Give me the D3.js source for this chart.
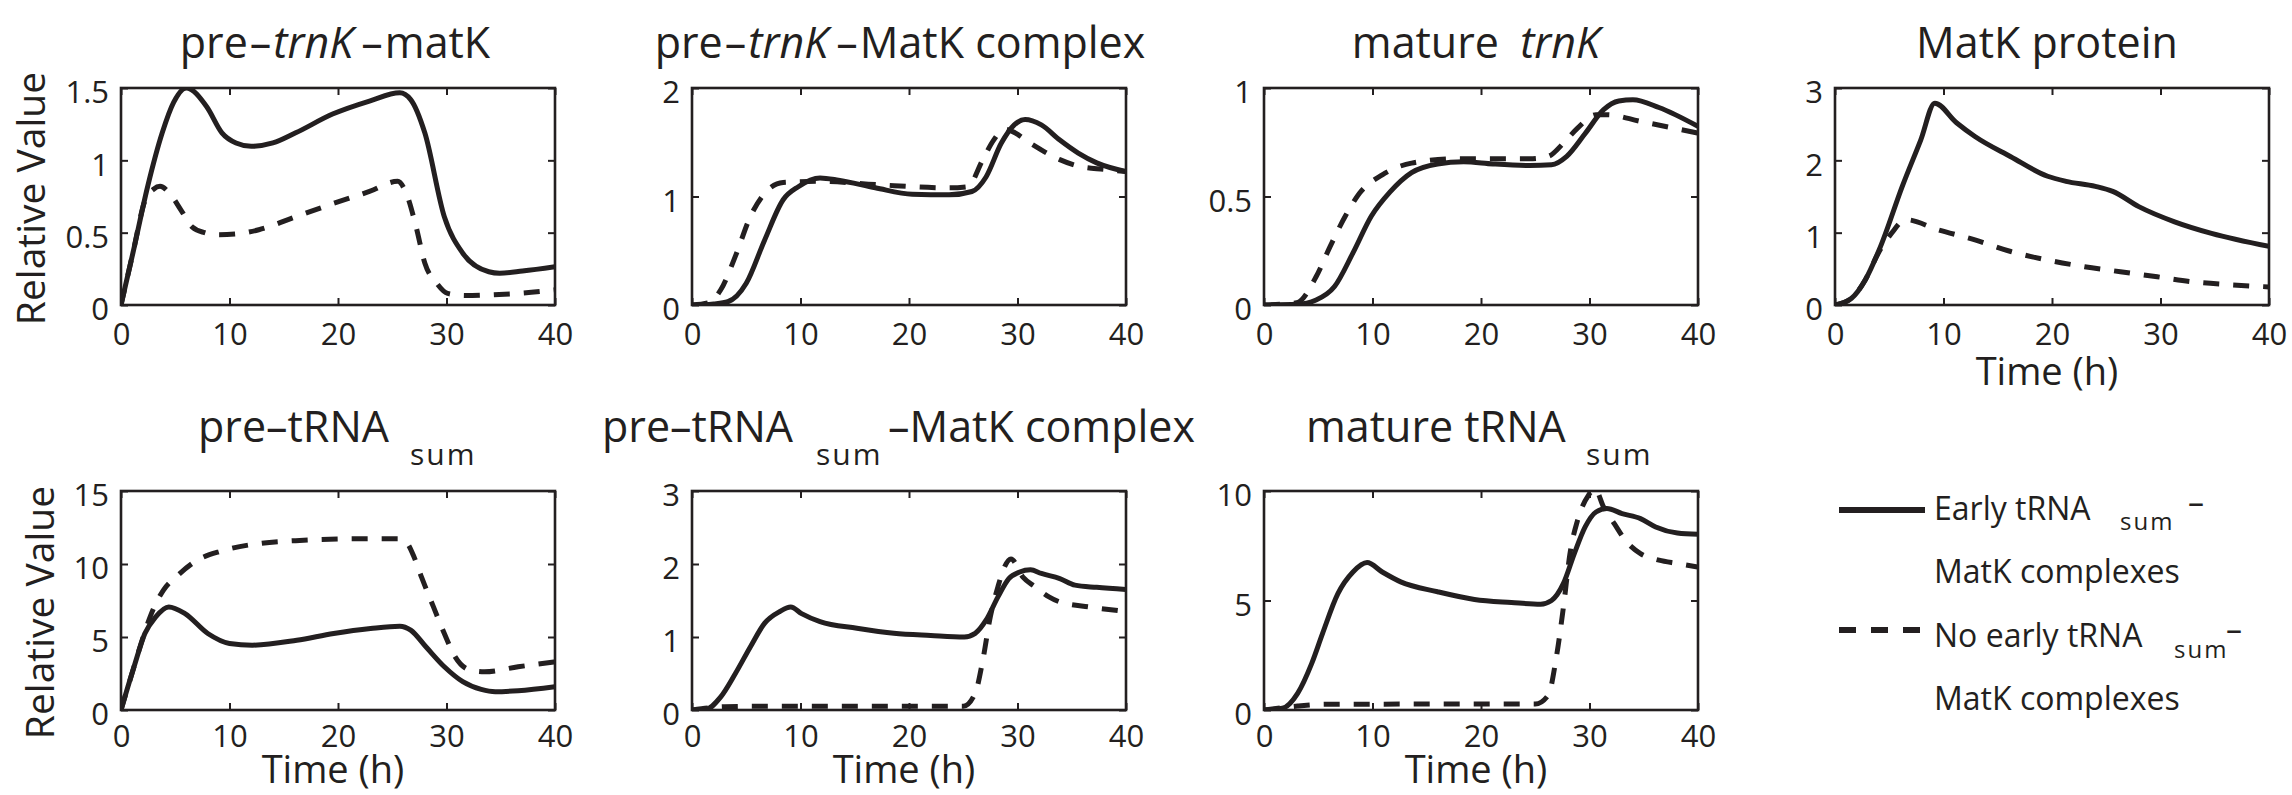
<!DOCTYPE html>
<html>
<head>
<meta charset="utf-8">
<script src="https://cdn.jsdelivr.net/npm/d3@7"></script>
<style>
  body { margin: 0; background: #fff; }
  svg text { font-family: "Open Sans", sans-serif; fill: #231f20; }
</style>
</head>
<body>
<svg id="chart" width="2292" height="795"></svg>
<script>
// time course values as [hour, value]
const preTrnkMatkEarly = [[0,0],[1.1,0.36],[2.46,0.82],[3.8,1.19],[4.85,1.4],[6,1.5],[7.9,1.37],[9.3,1.19],[10.6,1.12],[12,1.097],[14,1.12],[16.1,1.19],[19.5,1.32],[22.9,1.41],[25.7,1.467],[26.7,1.42],[28,1.19],[29.8,0.61],[31.5,0.358],[33.9,0.23],[34.9,0.22],[37,0.235],[40,0.265]];
const preTrnkMatkNone = [[0,0],[1.1,0.36],[2.2,0.72],[3,0.8],[3.6,0.82],[4.5,0.77],[5.5,0.66],[6.55,0.54],[7.7,0.5],[8.9,0.485],[10.5,0.49],[12.7,0.52],[16.1,0.61],[19.5,0.7],[22.9,0.785],[25.5,0.855],[26.3,0.77],[27.2,0.54],[28,0.29],[29.1,0.15],[30.1,0.08],[31.8,0.065],[34,0.07],[36.6,0.08],[40,0.104]];

const preTrnkComplexEarly = [[0,0],[1,0.003],[2,0.01],[3.3,0.03],[5,0.2],[6.7,0.6],[8.4,0.97],[9.8,1.09],[11.8,1.17],[13.5,1.15],[16.9,1.08],[20.3,1.02],[23.7,1.015],[25.8,1.046],[27.1,1.18],[28.5,1.49],[29.7,1.66],[30.7,1.71],[32.2,1.66],[33.9,1.52],[35.6,1.4],[37.3,1.31],[40,1.23]];
const preTrnkComplexNone = [[0,0],[1.5,0.02],[2.65,0.14],[4,0.45],[5.4,0.82],[6.7,1.03],[8.4,1.13],[11.8,1.14],[16.9,1.11],[23.7,1.08],[25.4,1.09],[26.8,1.34],[27.8,1.52],[28.8,1.62],[29.5,1.6],[31.2,1.49],[33.9,1.34],[35.6,1.28],[38,1.25],[40,1.23]];

const matureTrnkEarly = [[0,0],[3,0.003],[4.8,0.023],[6.5,0.085],[8.2,0.24],[9.9,0.41],[11.6,0.52],[13.6,0.61],[16,0.65],[18.4,0.66],[21.1,0.65],[24.5,0.643],[26.5,0.646],[27.9,0.685],[29.6,0.79],[31.3,0.9],[32.7,0.94],[34,0.946],[36.4,0.91],[40,0.823]];
const matureTrnkNone = [[0,0],[3,0.01],[4.8,0.13],[6.1,0.27],[7.5,0.41],[8.8,0.515],[10.9,0.6],[13.6,0.654],[17.7,0.674],[24.5,0.674],[26.2,0.685],[27.6,0.746],[28.9,0.815],[30.6,0.877],[31.6,0.877],[34.7,0.846],[40,0.792]];

const matkProteinEarly = [[0,0],[1.5,0.09],[2.8,0.35],[4.2,0.81],[6.2,1.64],[7.9,2.28],[9.2,2.79],[11.2,2.52],[12.9,2.33],[16.2,2.05],[19.6,1.78],[21.3,1.71],[24,1.64],[25.6,1.57],[28,1.36],[31.3,1.15],[34.7,0.99],[40,0.81]];
const matkProteinNone = [[0,0],[1.5,0.09],[2.8,0.35],[4,0.72],[5.2,0.99],[6.5,1.18],[9.5,1.04],[12.9,0.9],[16.2,0.74],[19.6,0.62],[23,0.53],[26.3,0.46],[29.7,0.39],[33,0.32],[36.4,0.28],[40,0.25]];

const preTrnaEarly = [[0,0],[1.2,2.96],[2.2,5.24],[3.2,6.38],[4.4,7.06],[5.9,6.6],[8,5.24],[10,4.56],[12.1,4.44],[16.2,4.78],[19.6,5.24],[23,5.58],[25.7,5.74],[26.7,5.47],[28.1,4.33],[29.8,2.96],[31.5,1.94],[33.2,1.41],[34.5,1.25],[36.6,1.32],[40,1.6]];
const preTrnaNone = [[0,0],[1.2,2.96],[2,4.9],[2.8,6.6],[3.9,8.2],[5.2,9.2],[7,10.25],[9.3,10.9],[12.7,11.4],[16.1,11.6],[23,11.73],[25.7,11.73],[26.4,11.4],[27,10.5],[27.7,9.1],[28.8,7.06],[29.8,5.24],[30.8,3.64],[32.2,2.73],[33.5,2.62],[36.6,2.96],[40,3.3]];

const preTrnaComplexEarly = [[0,0],[1.3,0.01],[2.65,0.18],[4,0.5],[5.4,0.87],[6.7,1.19],[8.1,1.35],[9.1,1.41],[10.1,1.32],[11.8,1.21],[15.2,1.12],[18.6,1.05],[22,1.02],[25.1,1.0],[26.1,1.05],[27.1,1.23],[28.2,1.55],[29.2,1.8],[30.2,1.89],[31.2,1.92],[32.2,1.87],[33.9,1.8],[35.3,1.71],[37.3,1.68],[40,1.65]];
const preTrnaComplexNone = [[0,0],[3,0.045],[6,0.05],[25,0.05],[26.1,0.23],[26.8,0.68],[27.5,1.28],[28.2,1.69],[28.8,1.96],[29.4,2.07],[30.5,1.82],[31.6,1.69],[32.9,1.55],[33.9,1.48],[36.7,1.41],[40,1.35]];

const matureTrnaEarly = [[0,0],[1.7,0.08],[3.1,0.76],[4.4,2.13],[5.4,3.5],[6.8,5.3],[8.2,6.3],[9.5,6.73],[10.9,6.3],[12.6,5.85],[16,5.4],[19.4,5.05],[22.8,4.91],[25.5,4.83],[26.5,5.0],[27.6,5.78],[28.6,7.14],[29.6,8.36],[30.6,9.04],[31.6,9.2],[33,8.97],[34.7,8.74],[36.1,8.36],[38.1,8.08],[40,8.02]];
const matureTrnaNone = [[0,0],[3.1,0.18],[5.8,0.26],[15,0.27],[25,0.27],[26.2,0.68],[26.9,2.28],[27.6,4.71],[28.2,7.14],[28.9,8.66],[29.9,9.8],[30.5,10.1],[31.3,9.27],[32.3,8.5],[33.3,7.75],[34.7,7.14],[36.4,6.84],[38.1,6.69],[40,6.53]];

const xTicks = [0, 10, 20, 30, 40];
const yTicksList = [[0,0.5,1,1.5],[0,1,2],[0,0.5,1],[0,1,2,3],[0,5,10,15],[0,1,2,3],[0,5,10]];
const yMaxList = [1.5, 2, 1, 3, 15, 3, 10];
const legendLabels = [["Early tRNA", "sum", "–", "MatK complexes"], ["No early tRNA", "sum", "–", "MatK complexes"]];

const svg = d3.select("#chart");
const INK = "#231f20";
const colLeft = [121, 692, 1264, 1835];
const rowTop = [88, 491];
const rowHeight = [217, 219];
const tickPad = [18, 15];
const timeLabelGap = [80, 73];
const W = 434;

const panels = [
  {col:0, row:0, solid:preTrnkMatkEarly, dashed:preTrnkMatkNone, ylab:45, xlab:false},
  {col:1, row:0, solid:preTrnkComplexEarly, dashed:preTrnkComplexNone, xlab:false},
  {col:2, row:0, solid:matureTrnkEarly, dashed:matureTrnkNone, xlab:false},
  {col:3, row:0, solid:matkProteinEarly, dashed:matkProteinNone, xlab:true},
  {col:0, row:1, solid:preTrnaEarly, dashed:preTrnaNone, ylab:54, xlab:true},
  {col:1, row:1, solid:preTrnaComplexEarly, dashed:preTrnaComplexNone, xlab:true},
  {col:2, row:1, solid:matureTrnaEarly, dashed:matureTrnaNone, xlab:true}
];

panels.forEach((p, i) => drawPanel(p, i));

function drawPanel(p, i) {
  const x0 = colLeft[p.col], y0 = rowTop[p.row], h = rowHeight[p.row];
  const x = d3.scaleLinear().domain([0, 40]).range([x0, x0 + W]);
  const y = d3.scaleLinear().domain([0, yMaxList[i]]).range([y0 + h, y0]);
  const g = svg.append("g");

  g.append("clipPath").attr("id", "clip" + i)
    .append("rect").attr("x", x0).attr("y", y0).attr("width", W).attr("height", h);

  const line = d3.line().x(d => x(d[0])).y(d => y(d[1])).curve(d3.curveMonotoneX);
  const plot = g.append("g").attr("clip-path", "url(#clip" + i + ")");
  plot.append("path").attr("d", line(p.dashed))
    .attr("fill", "none").attr("stroke", INK).attr("stroke-width", 5)
    .attr("stroke-dasharray", "16,14");
  plot.append("path").attr("d", line(p.solid))
    .attr("fill", "none").attr("stroke", INK).attr("stroke-width", 5)
    .attr("stroke-linejoin", "round");

  const fmt = d => String(d);
  const yTicks = yTicksList[i];
  const styleAxis = a => {
    a.select(".domain").remove();
    a.selectAll(".tick line").attr("stroke", INK).attr("stroke-width", 2);
    a.selectAll("text").attr("fill", INK).style("font-size", "31px")
      .style("font-family", '"Open Sans", sans-serif');
  };
  // ticks only, no labels, for the top and right edges
  const bare = a => { styleAxis(a); a.selectAll("text").remove(); };

  g.append("g").attr("transform", `translate(0,${y0 + h})`)
    .call(d3.axisBottom(x).tickValues(xTicks).tickFormat(fmt).tickSize(-7).tickSizeOuter(0).tickPadding(tickPad[p.row]))
    .call(styleAxis);
  g.append("g").attr("transform", `translate(0,${y0})`)
    .call(d3.axisTop(x).tickValues(xTicks).tickSize(-7).tickSizeOuter(0))
    .call(bare);
  g.append("g").attr("transform", `translate(${x0},0)`)
    .call(d3.axisLeft(y).tickValues(yTicks).tickFormat(fmt).tickSize(-7).tickSizeOuter(0).tickPadding(12))
    .call(styleAxis)
    .selectAll("text").attr("dy", "0.48em");
  g.append("g").attr("transform", `translate(${x0 + W},0)`)
    .call(d3.axisRight(y).tickValues(yTicks).tickSize(-7).tickSizeOuter(0))
    .call(bare);

  g.append("rect").attr("x", x0).attr("y", y0).attr("width", W).attr("height", h)
    .attr("fill", "none").attr("stroke", INK).attr("stroke-width", 2.6);

  if (p.ylab) {
    g.append("text")
      .attr("transform", `translate(${p.ylab},${y0 + h / 2 + (p.row ? 12 : 2)}) rotate(-90)`)
      .attr("text-anchor", "middle").style("font-size", "39px")
      .text("Relative Value");
  }
  if (p.xlab) {
    g.append("text").attr("x", x0 + W / 2 - 5).attr("y", y0 + h + timeLabelGap[p.row])
      .attr("text-anchor", "middle").style("font-size", "38px")
      .text("Time (h)");
  }
}

// titles
const TS = "43px", SUB = "30px";
function title(cx, parts, anchor) {
  const t = svg.append("text").attr("x", cx).attr("y", anchor.y)
    .attr("text-anchor", anchor.a).style("font-size", TS);
  parts.forEach(s => {
    const sp = t.append("tspan").text(s.t);
    if (s.it) sp.style("font-style", "italic");
    if (s.dx) sp.attr("dx", s.dx);
    if (s.x != null) sp.attr("x", s.x);
    if (s.y != null) sp.attr("y", s.y);
    if (s.sub) sp.style("font-size", SUB).attr("letter-spacing", 2);
  });
}
title(335, [{t:"pre"}, {t:"–", dx:2}, {t:"trnK", it:true, dx:2}, {t:"–", dx:8}, {t:"matK", dx:2}], {y:58, a:"middle"});
title(900, [{t:"pre"}, {t:"–", dx:2}, {t:"trnK", it:true, dx:2}, {t:"–", dx:8}, {t:"MatK complex", dx:2}], {y:58, a:"middle"});
title(1476, [{t:"mature "}, {t:"trnK", it:true, dx:10}], {y:58, a:"middle"});
title(2047, [{t:"MatK protein"}], {y:58, a:"middle"});
title(198, [{t:"pre–tRNA"}, {t:"sum", sub:true, x:410, y:465}], {y:442, a:"start"});
title(602, [{t:"pre–tRNA"}, {t:"sum", sub:true, x:816, y:465}, {t:"–MatK complex", x:888, y:442}], {y:442, a:"start"});
title(1306, [{t:"mature tRNA"}, {t:"sum", sub:true, x:1586, y:465}], {y:442, a:"start"});

// legend
const legendY = [510, 630];
legendLabels.forEach((lab, k) => {
  const ly = legendY[k];
  svg.append("line").attr("x1", 1839).attr("x2", k ? 1920 : 1925).attr("y1", ly).attr("y2", ly)
    .attr("stroke", INK).attr("stroke-width", 6)
    .attr("stroke-dasharray", k ? "17,15" : null);
  const base = ly + (k ? 17 : 10);
  const t = svg.append("text").attr("x", 1934).attr("y", base).style("font-size", "32px");
  t.append("tspan").text(lab[0]);
  t.append("tspan").attr("x", k ? 2174 : 2120).attr("y", base + (k ? 11 : 10))
    .style("font-size", "24px").attr("letter-spacing", 2).text(lab[1]);
  t.append("tspan").attr("x", k ? 2226 : 2188).attr("y", base - 6).text(lab[2]);
  svg.append("text").attr("x", 1934).attr("y", base + 63).style("font-size", "32px").text(lab[3]);
});
</script>
</body>
</html>
